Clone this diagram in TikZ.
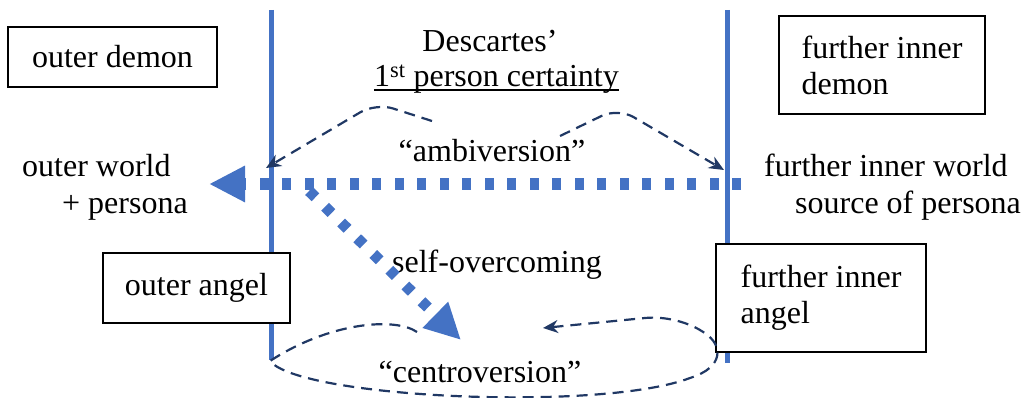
\documentclass[tikz,border=0pt]{standalone}
\usepackage{fontspec}
\setmainfont{Liberation Serif}
\usetikzlibrary{arrows.meta}
\definecolor{cblue}{HTML}{4472C4}
\definecolor{cnavy}{HTML}{203864}
\begin{document}
\begin{tikzpicture}[x=1pt,y=-1pt,
  every node/.style={font=\fontsize{32}{36}\selectfont},
  lbl/.style={inner sep=0pt, anchor=base},
  boxed/.style={draw=black, line width=1.4pt, fill=white},
  divider/.style={cblue, line width=5pt},
  flow/.style={cblue, line width=11pt, dash pattern=on 9pt off 13.5pt, -{Triangle[length=36pt,width=34pt]}},
  loopy/.style={cnavy, line width=2.2pt, dash pattern=on 11pt off 7pt, -{Stealth[length=15pt,width=13pt]}}
]
\useasboundingbox (0,0) rectangle (1027,398);
% dividers
\coordinate (L1) at (271,10); \coordinate (L2) at (271,360);
\coordinate (R1) at (727,10); \coordinate (R2) at (727,363);
\draw[divider] (L1) -- (L2);
\draw[divider] (R1) -- (R2);
% boxes
\node[boxed, minimum width=209pt, minimum height=60pt, inner sep=0pt] (od) at (112.5,57) {outer demon};
\node[boxed, minimum width=206pt, minimum height=98pt, align=left, inner sep=0pt] (fid) at (882,65) {further inner\\demon};
\node[boxed, minimum width=187pt, minimum height=70pt, inner sep=0pt] (oa) at (196.5,288) {outer angel};
\node[boxed, minimum width=210pt, minimum height=108pt, align=left, inner sep=0pt] (fia) at (821,298) {further inner\\angel};
% texts
\node[lbl] (desc) at (490,52) {Descartes’};
\node[lbl] (cert) at (496.5,87) {1\textsuperscript{st} person certainty};
\draw[line width=1.5pt] ([yshift=-3pt]cert.base west) -- ([yshift=-3pt]cert.base east);
\node[lbl] (amb) at (492,162) {“ambiversion”};
\node[lbl, anchor=base west] (ow) at (22,177) {outer world};
\node[lbl, anchor=base west] (op) at (62,213) {+ persona};
\node[lbl, anchor=base west] (fw) at (764,177) {further inner world};
\node[lbl, anchor=base west] (fs) at (795,213) {source of persona};
\node[lbl] (so) at (497,272) {self-overcoming};
\node[lbl] (cv) at (480,382) {“centroversion”};
% blue flows
\coordinate (hs) at (741,184); \coordinate (he) at (209,184);
\draw[flow] (hs) -- (he);
\coordinate (ds) at (309,191); \coordinate (de) at (461,340);
\draw[flow] (ds) -- (de);
% navy dashed loops
\coordinate (a1) at (432,121); \coordinate (a1p) at (376,103); \coordinate (a1e) at (266,168);
\draw[loopy, rounded corners=18pt] (a1) -- (a1p) -- (a1e);
\coordinate (a2) at (560,136); \coordinate (a2p) at (618,108); \coordinate (a2e) at (724,170);
\draw[loopy, rounded corners=18pt] (a2) -- (a2p) -- (a2e);
\coordinate (c0) at (417,332); \coordinate (cl) at (270,361); \coordinate (ce) at (543,328);
\draw[loopy] (c0) .. controls (395,317) and (330,322) .. (cl)
  .. controls (300,398) and (600,412) .. (690,378)
  .. controls (725,367) and (722,345) .. (706,334)
  .. controls (690,322) and (665,316) .. (645,318) -- (ce);
\end{tikzpicture}
\end{document}
